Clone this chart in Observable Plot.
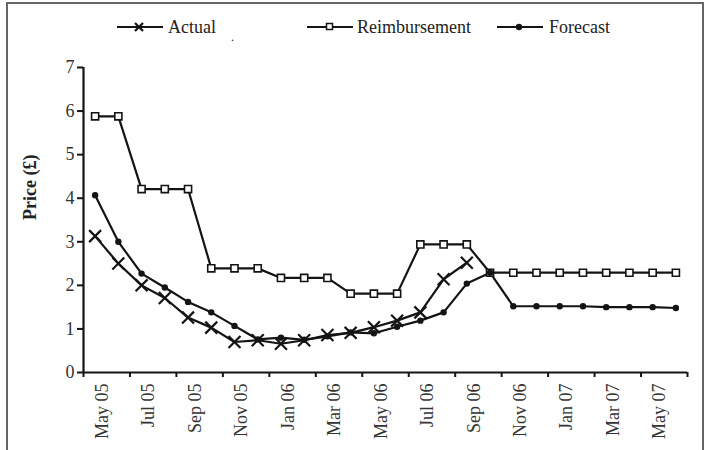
<!DOCTYPE html>
<html>
<head>
<meta charset="utf-8">
<script src="https://cdn.jsdelivr.net/npm/d3@7"></script>
<script src="https://cdn.jsdelivr.net/npm/@observablehq/plot@0.6"></script>
<style>
  body { margin: 0; background: #fff; font-family: "Liberation Serif", "Times New Roman", serif; }
  #wrap { position: relative; width: 708px; height: 450px; overflow: hidden; }
  #frame { position: absolute; left: 6px; top: 2px; width: 694px; height: 520px; border: 2px solid #666; pointer-events: none; }
  #legend { position: relative; height: 50px; }
  .sym { position: absolute; top: 19px; }
  .lab { position: absolute; top: 17px; font-size: 18px; line-height: 20px; color: #222; white-space: nowrap; }
  #chart svg text { font-family: "Liberation Serif", "Times New Roman", serif; }
</style>
</head>
<body>
<div id="wrap">
  <div id="legend"></div>
  <div id="chart"></div>
  <div id="frame"></div>
</div>
<script>
// ---- data ----
const months = ["May 05","Jun 05","Jul 05","Aug 05","Sep 05","Oct 05","Nov 05","Dec 05",
  "Jan 06","Feb 06","Mar 06","Apr 06","May 06","Jun 06","Jul 06","Aug 06","Sep 06","Oct 06",
  "Nov 06","Dec 06","Jan 07","Feb 07","Mar 07","Apr 07","May 07","Jun 07"];
const actual = [3.13, 2.5, 2.0, 1.71, 1.26, 1.03, 0.70, 0.74, 0.66, 0.74, 0.86, 0.91, 1.04, 1.19, 1.38, 2.14, 2.52];
const reimbursement = [5.88, 5.88, 4.21, 4.21, 4.21, 2.39, 2.39, 2.39, 2.17, 2.17, 2.17, 1.81, 1.81, 1.81,
  2.94, 2.94, 2.94, 2.29, 2.29, 2.29, 2.29, 2.29, 2.29, 2.29, 2.29, 2.29];
const forecast = [4.07, 3.0, 2.27, 1.95, 1.62, 1.38, 1.07, 0.76, 0.80, 0.75, 0.83, 0.92, 0.90, 1.05, 1.19,
  1.38, 2.04, 2.29, 1.52, 1.52, 1.52, 1.52, 1.50, 1.50, 1.50, 1.48];
const yTicks = [0, 1, 2, 3, 4, 5, 6, 7];
const seriesNames = ["Actual", "Reimbursement", "Forecast"];
const yLabel = "Price (£)";

// ---- derived tables ----
const toRows = arr => arr.map((v, i) => ({i, month: months[i], v}));
const actualRows = toRows(actual);
const reimbRows = toRows(reimbursement);
const foreRows = toRows(forecast);
const labelIdx = months.map((m, i) => i).filter(i => i % 2 === 0);
const boundaries = d3.range(-0.5, months.length, 2);
const ink = "#141414";
const serif = "Liberation Serif, Times New Roman, serif";

// ---- legend ----
const legend = document.getElementById("legend");
const legendPos = [{sym: 117, lab: 168}, {sym: 307, lab: 357}, {sym: 497, lab: 549}];
const symSvg = [
  `<svg width="46" height="16"><line x1="0" y1="8" x2="46" y2="8" stroke="${ink}" stroke-width="2"/><path d="M18,4L26,12M26,4L18,12" stroke="${ink}" stroke-width="2.2"/></svg>`,
  `<svg width="46" height="16"><line x1="0" y1="8" x2="46" y2="8" stroke="${ink}" stroke-width="2"/><rect x="19.5" y="4.5" width="6" height="6" fill="#fff" stroke="${ink}" stroke-width="1.5"/></svg>`,
  `<svg width="46" height="16"><line x1="0" y1="8" x2="46" y2="8" stroke="${ink}" stroke-width="2"/><circle cx="22" cy="8" r="3.2" fill="${ink}"/></svg>`
];
seriesNames.forEach((name, k) => {
  const s = document.createElement("div");
  s.className = "sym"; s.style.left = legendPos[k].sym + "px"; s.innerHTML = symSvg[k];
  legend.appendChild(s);
  const t = document.createElement("div");
  t.className = "lab"; t.style.left = legendPos[k].lab + "px"; t.textContent = name;
  legend.appendChild(t);
});
const dot = document.createElement("div");
dot.className = "lab"; dot.style.left = "231px"; dot.style.top = "27px"; dot.style.fontSize = "12px"; dot.textContent = ".";
legend.appendChild(dot);

// ---- chart ----
const chart = Plot.plot({
  width: 708,
  height: 400,
  marginLeft: 83,
  marginRight: 21,
  marginTop: 17,
  marginBottom: 78,
  style: {fontFamily: serif, fontSize: "18px", color: "#222", background: "transparent", overflow: "visible"},
  x: {domain: [-0.5, months.length - 0.5]},
  y: {domain: [0, 7]},
  marks: [
    Plot.axisY(yTicks, {tickSize: 6, tickPadding: 3, label: null, strokeWidth: 2, stroke: ink, fill: "#333", fontSize: 18, fontFamily: serif}),
    Plot.axisX(labelIdx, {tickSize: 0, tickRotate: -90, tickPadding: 11, tickFormat: i => months[i], label: null, dx: 7, fill: "#333", fontSize: 18, fontFamily: serif}),
    Plot.axisX(boundaries, {tickSize: 5, tickFormat: () => "", label: null, strokeWidth: 2, stroke: ink}),
    Plot.ruleX([-0.5], {y1: 0, y2: 7, stroke: ink, strokeWidth: 2.2}),
    Plot.ruleY([0], {x1: -0.5, x2: months.length - 0.5, stroke: ink, strokeWidth: 2.2}),
    Plot.text([yLabel], {frameAnchor: "left", dx: -53, rotate: -90, fontWeight: "bold", fontSize: 18, fontFamily: serif, fill: "#222"}),
    Plot.line(reimbRows, {x: "i", y: "v", stroke: ink, strokeWidth: 2.2}),
    Plot.line(foreRows, {x: "i", y: "v", stroke: ink, strokeWidth: 2.2}),
    Plot.line(actualRows, {x: "i", y: "v", stroke: ink, strokeWidth: 2.2}),
    Plot.dot(reimbRows, {x: "i", y: "v", symbol: "square", r: 4, fill: "#fff", stroke: ink, strokeWidth: 1.6}),
    Plot.dot(foreRows, {x: "i", y: "v", r: 3.2, fill: ink}),
    Plot.dot(actualRows, {x: "i", y: "v", symbol: "times", r: 5.5, stroke: ink, strokeWidth: 2.2})
  ]
});
document.getElementById("chart").appendChild(chart);
</script>
</body>
</html>
